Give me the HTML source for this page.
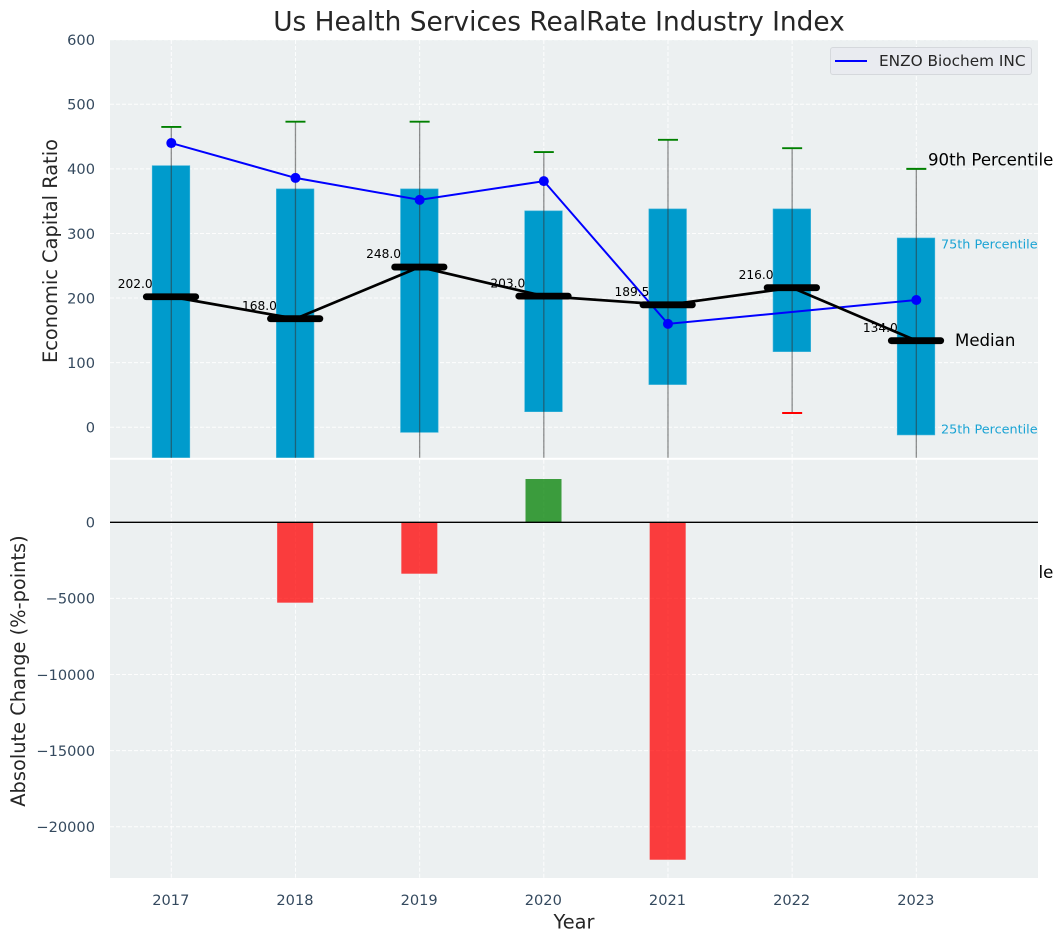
<!DOCTYPE html>
<html>
<head>
<meta charset="utf-8">
<style>
html,body{margin:0;padding:0;background:#fff;width:1063px;height:942px;overflow:hidden}
svg{display:block;font-family:"DejaVu Sans","Liberation Sans",sans-serif}
</style>
</head>
<body>
<svg id="chart" xmlns="http://www.w3.org/2000/svg" width="1063" height="942" viewBox="0 0 1063 942"></svg>
<script>
const years = [2017, 2018, 2019, 2020, 2021, 2022, 2023];
const p90 = [465, 473, 473, 426, 445, 432, 400];
const p75 = [405, 369, 369, 335, 338, 338, 293];
const medians = [202, 168, 248, 203, 189.5, 216, 134];
const p25 = [-120, -110, -8, 24, 66, 117, -12];
const p10 = [-300, -300, -260, -200, -150, 22, -200];
const company = [440, 386, 352, 381, 160, null, 197];
const changes = [null, -5280, -3377, 2845, -22170, null, null];
const upperTicks = [0, 100, 200, 300, 400, 500, 600];
const lowerTicks = [0, -5000, -10000, -15000, -20000];
const medianLabels = ['202.0', '168.0', '248.0', '203.0', '189.5', '216.0', '134.0'];

const svg = document.getElementById('chart');
const NS = 'http://www.w3.org/2000/svg';
const L = 110, R = 1038, T1 = 40, B1 = 457.8, T2 = 459.8, B2 = 878;
const xScale = y => 171.3 + (y - 2017) * 124.17;
const yUp = v => 427.2 - v * 0.6458;
const yLow = v => 522.3 - v * 0.01522;

function mk(tag, attrs, parent) {
  const e = document.createElementNS(NS, tag);
  for (const k in attrs) e.setAttribute(k, attrs[k]);
  (parent || svg).appendChild(e);
  return e;
}
function txt(str, attrs, parent) {
  const e = mk('text', attrs, parent);
  e.textContent = str;
  return e;
}
const fmt = v => String(v).replace('-', '\u2212');

const defs = mk('defs', {});
const cp1 = mk('clipPath', {id: 'clip-up'}, defs);
mk('rect', {x: L, y: T1, width: R - L, height: B1 - T1}, cp1);

// Upper panel
const upBg = mk('rect', {x: L, y: T1, width: R - L, height: B1 - T1, fill: '#ecf0f1'});



const upPlot = mk('g', {'clip-path': 'url(#clip-up)'});



upperTicks.forEach(t => {
  const g = mk('line', {x1: L, x2: R, y1: yUp(t), y2: yUp(t), stroke: '#fff', 'stroke-width': 1, 'stroke-dasharray': '4 2', opacity: 0.9}, upPlot);
  
  
  const l = txt(fmt(t), {x: 95, y: yUp(t) + 5.3, 'text-anchor': 'end', 'font-size': 14.6, fill: '#34495e'});
  
  
});
years.forEach(y => {
  const g = mk('line', {x1: xScale(y), x2: xScale(y), y1: T1, y2: B1, stroke: '#fff', 'stroke-width': 1, 'stroke-dasharray': '4 2', opacity: 0.9}, upPlot);
  
  
});

years.forEach((y, i) => {
  const cx = xScale(y);
  const box = mk('rect', {x: cx - 19.1, width: 37.6, y: yUp(p75[i]), height: yUp(p25[i]) - yUp(p75[i]), fill: '#009bcc', stroke: '#3fb4da', 'stroke-width': 0.6}, upPlot);
  
  
  const w = mk('line', {x1: cx, x2: cx, y1: yUp(p90[i]), y2: yUp(p10[i]), stroke: '#333', 'stroke-opacity': 0.55, 'stroke-width': 1.3}, upPlot);
  
  
  const c1 = mk('line', {x1: cx - 10, x2: cx + 10, y1: yUp(p90[i]), y2: yUp(p90[i]), stroke: '#008000', 'stroke-width': 1.9}, upPlot);
  
  
  const c2 = mk('line', {x1: cx - 10, x2: cx + 10, y1: yUp(p10[i]), y2: yUp(p10[i]), stroke: '#ff0000', 'stroke-width': 1.9}, upPlot);
  
  
});

// Company series
const companyIdx = years.map((_, i) => i).filter(i => company[i] !== null);
const companyLine = mk('polyline', {
  points: companyIdx.map(i => xScale(years[i]) + ',' + yUp(company[i])).join(' '),
  fill: 'none', stroke: '#0000ff', 'stroke-width': 2
}, upPlot);


companyIdx.forEach(i => {
  const p = mk('circle', {cx: xScale(years[i]), cy: yUp(company[i]), r: 5, fill: '#0000ff'}, upPlot);
  
  
});

// Median series
const medianLine = mk('polyline', {
  points: years.map((y, i) => xScale(y) + ',' + yUp(medians[i])).join(' '),
  fill: 'none', stroke: '#000', 'stroke-width': 2.7
}, upPlot);


years.forEach((y, i) => {
  const m = mk('line', {x1: xScale(y) - 25, x2: xScale(y) + 24.4, y1: yUp(medians[i]), y2: yUp(medians[i]), stroke: '#000', 'stroke-width': 6.8, 'stroke-linecap': 'round'}, upPlot);
  
  
  const t = txt(medianLabels[i], {x: xScale(y) - 18.6, y: yUp(medians[i]) - 8.8, 'text-anchor': 'end', 'font-size': 12.2, fill: '#000'});
  
  
});

// Annotations
const a90 = txt('90th Percentile', {x: 928, y: 165.5, 'font-size': 16.6, fill: '#000'});


const a75 = txt('75th Percentile', {x: 941, y: 248.3, 'font-size': 12.8, fill: '#1aa3d4'});


const aMed = txt('Median', {x: 955, y: 346, 'font-size': 16.6, fill: '#000'});


const a25 = txt('25th Percentile', {x: 941, y: 433.3, 'font-size': 12.8, fill: '#1aa3d4'});


const a10 = txt('10th Percentile', {x: 928, y: 578, 'font-size': 16.6, fill: '#000'});



// Legend
const legend = mk('g', {});


const legBox = mk('rect', {x: 830.5, y: 47.5, width: 201, height: 27, rx: 2.5, fill: '#e9ebf0', stroke: '#d5d8dc', 'stroke-width': 1}, legend);


const legLine = mk('line', {x1: 835, x2: 867, y1: 61, y2: 61, stroke: '#0000ff', 'stroke-width': 2}, legend);


const legText = txt('ENZO Biochem INC', {x: 879, y: 66, 'font-size': 15.3, fill: '#262626'}, legend);



// Lower panel
const lowBg = mk('rect', {x: L, y: T2, width: R - L, height: B2 - T2, fill: '#ecf0f1'});



lowerTicks.forEach(t => {
  const g = mk('line', {x1: L, x2: R, y1: yLow(t), y2: yLow(t), stroke: '#fff', 'stroke-width': 1, 'stroke-dasharray': '4 2', opacity: 0.9});
  
  
  const l = txt(fmt(t), {x: 95, y: yLow(t) + 5.3, 'text-anchor': 'end', 'font-size': 14.6, fill: '#34495e'});
  
  
});
years.forEach(y => {
  const g = mk('line', {x1: xScale(y), x2: xScale(y), y1: T2, y2: B2, stroke: '#fff', 'stroke-width': 1, 'stroke-dasharray': '4 2', opacity: 0.9});
  
  
  const l = txt(String(y), {x: xScale(y) - 0.5, y: 905, 'text-anchor': 'middle', 'font-size': 14.6, fill: '#34495e'});
  
  
});
years.forEach((y, i) => {
  if (changes[i] === null) return;
  const v = changes[i];
  const top = Math.min(yLow(v), yLow(0));
  const b = mk('rect', {x: xScale(y) - 18.3, width: 36, y: top, height: Math.abs(yLow(v) - yLow(0)), fill: v < 0 ? '#ff0000' : '#008000', 'fill-opacity': 0.75});
  
  
});
const zero = mk('line', {x1: L, x2: R, y1: yLow(0), y2: yLow(0), stroke: '#000', 'stroke-width': 1.4});



// Titles
const title = txt('Us Health Services RealRate Industry Index', {x: 559, y: 30.5, 'text-anchor': 'middle', 'font-size': 26.4, fill: '#262626'});


const yl1 = txt('Economic Capital Ratio', {x: 0, y: 0, 'text-anchor': 'middle', 'font-size': 19.4, fill: '#262626', transform: 'translate(57,251) rotate(-90)'});


const yl2 = txt('Absolute Change (%-points)', {x: 0, y: 0, 'text-anchor': 'middle', 'font-size': 19.4, fill: '#262626', transform: 'translate(25,671) rotate(-90)'});


const xl = txt('Year', {x: 574, y: 928.5, 'text-anchor': 'middle', 'font-size': 19.4, fill: '#262626'});


</script>
</body>
</html>
